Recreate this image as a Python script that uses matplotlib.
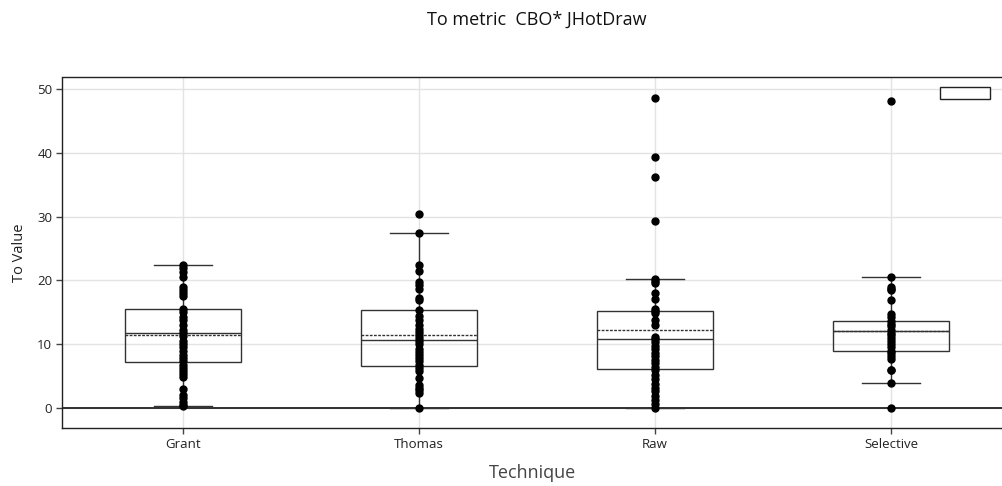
import matplotlib.pyplot as plt
from matplotlib.patches import Rectangle

plt.rcParams['font.family'] = ['Open Sans', 'DejaVu Sans']

techniques = ['Grant', 'Thomas', 'Raw', 'Selective']

# box statistics
whislo = [0.3, 0.0, 0.0, 4.0]
q1 = [7.2, 6.6, 6.1, 9.0]
medians = [11.75, 10.6, 10.9, 12.1]
means = [11.5, 11.5, 12.2, 12.1]
q3 = [15.5, 15.3, 15.2, 13.7]
whishi = [22.5, 27.4, 20.2, 20.5]

# individual observations
grant_pts = [22.5, 22.0, 21.3, 20.5, 19.0, 18.5, 18.0, 17.5, 15.5, 15.0, 14.3,
             13.8, 13.0, 12.3, 11.8, 11.3, 10.5, 10.0, 9.5, 9.0, 8.3, 7.8, 7.3,
             6.8, 6.3, 5.8, 5.3, 4.8, 3.0, 2.0, 1.5, 1.0, 0.5, 0.3]
thomas_pts = [30.5, 27.4, 22.4, 21.5, 19.8, 19.3, 18.6, 17.2, 16.9, 15.3, 14.5,
              13.8, 13.0, 12.4, 12.0, 11.5, 11.0, 10.5, 10.0, 9.3, 8.8, 8.3,
              7.8, 7.3, 6.8, 6.3, 5.8, 4.65, 3.6, 3.2, 2.8, 2.3, 0.0]
raw_pts = [48.6, 39.4, 36.3, 29.3, 20.2, 19.9, 19.6, 18.1, 17.1, 15.5, 15.2,
           14.9, 13.8, 13.0, 11.2, 10.8, 10.3, 9.8, 9.3, 8.7, 8.2, 7.6, 7.0,
           6.5, 5.9, 5.2, 4.5, 3.8, 3.2, 2.6, 1.9, 1.3, 0.6, 0.0]
selective_pts = [48.1, 20.5, 19.0, 18.7, 18.5, 17.0, 14.8, 14.3, 13.7, 13.2,
                 12.8, 12.3, 11.8, 11.4, 11.0, 10.5, 10.1, 9.6, 9.0, 8.6, 8.1,
                 7.7, 6.0, 5.9, 4.0, 0.0]
points = [grant_pts, thomas_pts, raw_pts, selective_pts]

W, H = 1003, 486
fig = plt.figure(figsize=(W / 100, H / 100), dpi=100)
left, right, top, bottom = 62, 1009, 77.5, 428
ax = fig.add_axes([left / W, 1 - bottom / H, (right - left) / W, (bottom - top) / H])

stats = []
for i in range(len(techniques)):
    stats.append(dict(whislo=whislo[i], q1=q1[i], med=medians[i], mean=means[i],
                      q3=q3[i], whishi=whishi[i], fliers=[]))

pos = list(range(len(techniques)))
ax.bxp(stats, positions=pos, widths=0.49, capwidths=0.245, showmeans=True,
       meanline=True, showfliers=False, patch_artist=True,
       boxprops=dict(facecolor='none', edgecolor='#333333', linewidth=1.0),
       medianprops=dict(color='#333333', linewidth=1.0),
       meanprops=dict(color='#333333', linestyle=(0, (2, 1)), linewidth=1.0),
       whiskerprops=dict(color='#333333', linewidth=1.0),
       capprops=dict(color='#333333', linewidth=1.0), zorder=3)

for i, pts in enumerate(points):
    ax.plot([pos[i]] * len(pts), pts, 'o', color='black', markersize=5, zorder=4)

ax.axhline(0, color='#222222', linewidth=1.3, zorder=2)

ax.set_xlim(-0.513, 3.5)
ax.set_ylim(-3.13, 51.83)
ax.set_xticks(pos)
ax.set_xticklabels(techniques)
ax.set_yticks([0, 10, 20, 30, 40, 50])
ax.grid(True, color='#e3e3e3', linewidth=1.0, zorder=0)
ax.set_axisbelow(True)
ax.tick_params(axis='both', direction='out', length=4, width=1, color='#444444',
               labelsize=9.5, labelcolor='#222222', pad=3)
for s in ax.spines.values():
    s.set_color('#222222')
    s.set_linewidth(1.0)
ax.spines['right'].set_visible(False)

ax.set_ylabel('To Value', fontsize=10.5, color='#222222', labelpad=7)
fig.text(533 / W, 1 - 473 / H, 'Technique', ha='center', va='center',
         fontsize=13, color='#444444')
fig.text(537 / W, 1 - 20 / H, 'To metric  CBO* JHotDraw', ha='center',
         va='center', fontsize=13, color='#111111')

# empty legend box in the top right corner
fig.patches.append(Rectangle((940 / W, 1 - 99.3 / H), 50 / W, 12 / H,
                             transform=fig.transFigure, facecolor='white',
                             edgecolor='#222222', linewidth=1.0))

fig.savefig('out.png', dpi=100)
